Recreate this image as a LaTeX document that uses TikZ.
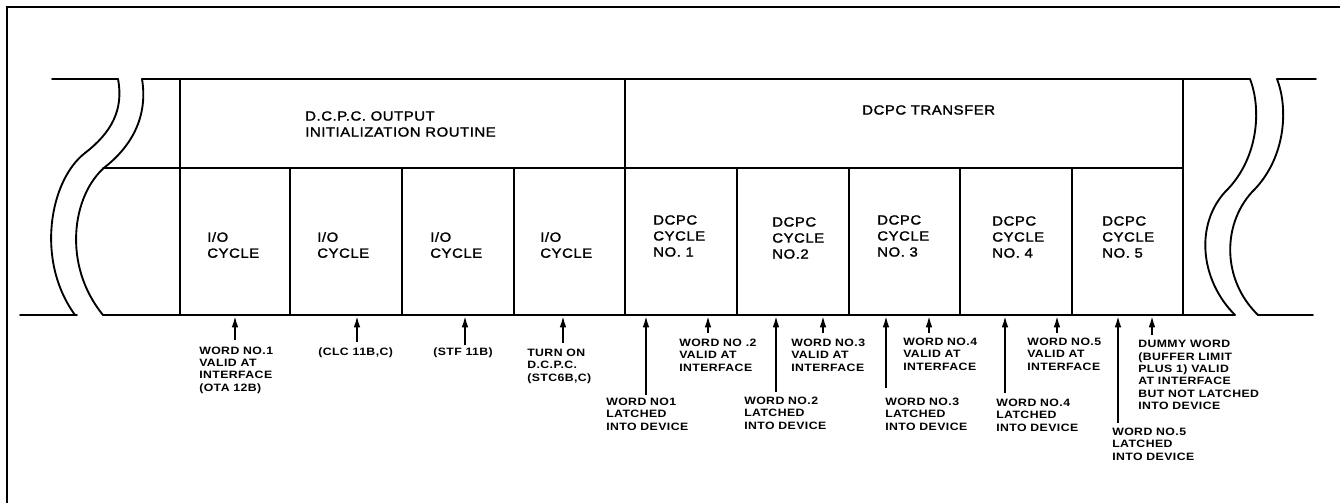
\documentclass[tikz,border=0pt]{standalone}
\usepackage{fontspec}
\usetikzlibrary{arrows.meta}
\newfontfamily\lblfont[FakeStretch=1.12,LetterSpace=4,FakeBold=1.5]{Liberation Sans}
\newfontfamily\annfont[FakeStretch=1.15,LetterSpace=4]{Liberation Sans Bold}
\tikzset{
  mainline/.style={line width=1.4pt, line join=round, line cap=round},
  frameline/.style={line width=2.2pt},
  lbl/.style={anchor=west, align=left, inner sep=0pt, font=\lblfont\fontsize{10}{12}\selectfont},
  ann/.style={anchor=west, align=left, inner sep=0pt, font=\annfont\fontsize{8}{9.3}\selectfont},
  upar/.style={line width=1.3pt, -{Latex[length=8.5pt,width=5pt]}}
}
\begin{document}
\begin{tikzpicture}[x=0.75pt,y=-0.75pt]
\useasboundingbox (0,0) rectangle (1340,503);
% outer frame
\draw[frameline] (7,503) -- (7,7) -- (1340,7);
% main grid
\draw[mainline] (142,79) -- (1250,79);
\draw[mainline] (103,168) -- (1183,168);
\draw[mainline] (103,315) -- (1235,315);
\draw[mainline] (180,79) -- (180,315);
\draw[mainline] (625,79) -- (625,315);
\draw[mainline] (1183,79) -- (1183,315);
\foreach \x in {290,402,514,737,849,960,1072}
  \draw[mainline] (\x,168) -- (\x,315);
% left break
\draw[mainline] (52,79) -- (118,79);
\draw[mainline] (20,315) -- (77,315);
\draw[mainline] (118,79) .. controls (124,110) and (111,133) .. (85,153)
  .. controls (50,180) and (35,260) .. (75,315);
\draw[mainline] (142,79) .. controls (148,115) and (133,145) .. (105,167)
  .. controls (72,195) and (62,265) .. (103,315);
% right break
\draw[mainline] (1277,79) -- (1316,79);
\draw[mainline] (1258,315) -- (1313,315);
\draw[mainline] (1250,79) .. controls (1262,110) and (1258,160) .. (1225,192)
  .. controls (1195,225) and (1200,280) .. (1235,315);
\draw[mainline] (1277,79) .. controls (1289,110) and (1285,160) .. (1252,192)
  .. controls (1222,225) and (1222,280) .. (1258,315);
% top labels
\node[lbl] (init) at (305,124) {D.C.P.C. OUTPUT\\INITIALIZATION ROUTINE};
\node[lbl] (xfer) at (862,110) {DCPC TRANSFER};
% cell labels
\node[lbl] (io1) at (207,245) {I/O\\CYCLE};
\node[lbl] (io2) at (317,245) {I/O\\CYCLE};
\node[lbl] (io3) at (430,245) {I/O\\CYCLE};
\node[lbl] (io4) at (540,245) {I/O\\CYCLE};
\node[lbl] (dc1) at (653,236) {DCPC\\CYCLE\\NO. 1};
\node[lbl] (dc2) at (772,238) {DCPC\\CYCLE\\NO.2};
\node[lbl] (dc3) at (877,236) {DCPC\\CYCLE\\NO. 3};
\node[lbl] (dc4) at (992,237) {DCPC\\CYCLE\\NO. 4};
\node[lbl] (dc5) at (1102,237) {DCPC\\CYCLE\\NO. 5};
% annotations
\node[ann] (a1) at (199,370) {WORD NO.1\\VALID AT\\INTERFACE\\(OTA 12B)};
\node[ann] (a2) at (318,353) {(CLC 11B,C)};
\node[ann] (a3) at (433,353) {(STF 11B)};
\node[ann] (a4) at (527,366) {TURN ON\\D.C.P.C.\\(STC6B,C)};
\node[ann] (a5) at (606,414) {WORD NO1\\LATCHED\\INTO DEVICE};
\node[ann] (a6) at (679,355) {WORD NO .2\\VALID AT\\INTERFACE};
\node[ann] (a7) at (744,413) {WORD NO.2\\LATCHED\\INTO DEVICE};
\node[ann] (a8) at (791,355) {WORD NO.3\\VALID AT\\INTERFACE};
\node[ann] (a9) at (885,414) {WORD NO.3\\LATCHED\\INTO DEVICE};
\node[ann] (a10) at (903,354) {WORD NO.4\\VALID AT\\INTERFACE};
\node[ann] (a11) at (996,415) {WORD NO.4\\LATCHED\\INTO DEVICE};
\node[ann] (a12) at (1027,354) {WORD NO.5\\VALID AT\\INTERFACE};
\node[ann] (a13) at (1112,444) {WORD NO.5\\LATCHED\\INTO DEVICE};
\node[ann] (a14) at (1138,375) {DUMMY WORD\\(BUFFER LIMIT\\PLUS 1) VALID\\AT INTERFACE\\BUT NOT LATCHED\\INTO DEVICE};
% arrow coordinates
\coordinate (t1) at (235,340);  \coordinate (h1) at (235,316);
\coordinate (t2) at (357,342);  \coordinate (h2) at (357,316);
\coordinate (t3) at (465,345);  \coordinate (h3) at (465,316);
\coordinate (t4) at (563,343);  \coordinate (h4) at (563,316);
\coordinate (t5) at (646,395);  \coordinate (h5) at (646,316);
\coordinate (t6) at (708,333);  \coordinate (h6) at (708,316);
\coordinate (t7) at (776,392);  \coordinate (h7) at (776,316);
\coordinate (t8) at (823,333);  \coordinate (h8) at (823,316);
\coordinate (t9) at (886,388);  \coordinate (h9) at (886,316);
\coordinate (t10) at (929,333); \coordinate (h10) at (929,316);
\coordinate (t11) at (1005,393); \coordinate (h11) at (1005,316);
\coordinate (t12) at (1057,333); \coordinate (h12) at (1057,316);
\coordinate (t13) at (1118,423); \coordinate (h13) at (1118,316);
\coordinate (t14) at (1152,335); \coordinate (h14) at (1152,316);
\foreach \i in {1,...,14}
  \draw[upar] (t\i) -- (h\i);
\end{tikzpicture}
\end{document}
